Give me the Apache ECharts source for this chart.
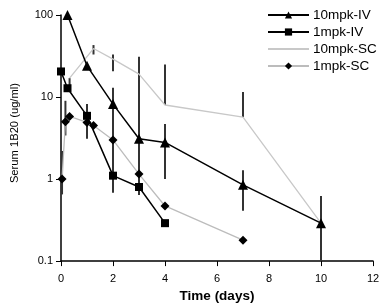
<!DOCTYPE html>
<html>
<head>
<meta charset="utf-8">
<script src="https://cdn.jsdelivr.net/npm/echarts@6/dist/echarts.min.js"></script>
<style>
  html, body { margin: 0; padding: 0; background: #fff; }
  #chart { width: 387px; height: 308px; }
</style>
</head>
<body>
<div id="chart"></div>
<script>
// 各组的时间点 (days) 与血清浓度 (ug/ml)
const days10IV = [0.25, 1, 2, 3, 4, 7, 10];
const conc10IV = [100, 24, 8.2, 3.1, 2.8, 0.85, 0.29];
const days1IV = [0, 0.25, 1, 2, 3, 4];
const conc1IV = [20.5, 12.8, 5.9, 1.1, 0.8, 0.29];
const days10SC = [0.33, 1.25, 2, 3, 4, 7, 10];
const conc10SC = [17, 39, 29, 19, 8.0, 5.7, 0.29];
const days1SC = [0.04, 0.17, 0.33, 1, 1.25, 2, 3, 4, 7];
const conc1SC = [1.0, 5.0, 5.8, 4.9, 4.5, 3.0, 1.15, 0.47, 0.18];

// 误差线: [day, low, high]
const errBars = [
    [0.04, 0.65, 2.2],
    [0.17, 3.4, 9],
    [0.33, 11.5, 17],
    [1, 3.1, 8.2],
    [1.25, 33, 43],
    [2, 20.6, 33],
    [2, 0.68, 13],
    [3, 0.64, 31],
    [4, 8.0, 25],
    [4, 1.0, 4.7],
    [7, 5.7, 11.5],
    [7, 0.41, 1.28],
    [10, 0.1, 0.62]
];

const seriesNames = ["10mpk-IV", "1mpk-IV", "10mpk-SC", "1mpk-SC"];
const xTicks = [0, 2, 4, 6, 8, 10, 12];

const font = "Liberation Sans";
const chart = echarts.init(document.getElementById("chart"));

function pairs(xs, ys) {
    return xs.map((x, i) => [x, ys[i]]);
}

const option = {
    animation: false,
    backgroundColor: "#fff",
    textStyle: { fontFamily: font },
    grid: { left: 61, right: 14, top: 15, bottom: 43 },
    legend: {
        orient: "vertical",
        left: 267,
        top: 8,
        padding: 0,
        itemGap: 3,
        itemWidth: 41,
        itemHeight: 9,
        // 10mpk-SC 没有标记点，图例里只画线
        data: seriesNames.map(n => n === "10mpk-SC" ? { name: n, itemStyle: { opacity: 0 } } : n),
        textStyle: { fontFamily: font, fontSize: 13.5, color: "#000", padding: [0, 0, 0, -1] }
    },
    xAxis: {
        type: "value",
        min: 0,
        max: 12,
        interval: 2,
        name: "Time (days)",
        nameLocation: "middle",
        nameGap: 25,
        nameTextStyle: { fontFamily: font, fontSize: 13.5, fontWeight: "bold", color: "#000" },
        axisLine: { lineStyle: { color: "#000", width: 1.5 } },
        axisTick: { show: true, length: 5, lineStyle: { color: "#000" } },
        axisLabel: {
            fontSize: 11, color: "#000", margin: 12,
            formatter: v => xTicks.includes(v) ? String(v) : ""
        },
        splitLine: { show: false }
    },
    yAxis: {
        type: "log",
        min: 0.1,
        max: 100,
        logBase: 10,
        name: "Serum 1B20 (ug/ml)",
        nameLocation: "middle",
        nameGap: 41,
        nameTextStyle: { fontFamily: font, fontSize: 11.2, color: "#000", padding: [0, 0, 0, 10] },
        axisLine: { show: true, lineStyle: { color: "#000", width: 1.5 } },
        axisTick: { show: true, length: 5, lineStyle: { color: "#000" } },
        axisLabel: { fontSize: 11, color: "#000", margin: 8, formatter: v => String(v) },
        splitLine: { show: false },
        minorTick: { show: false }
    },
    series: [
        {
            type: "custom",
            name: "err",
            z: 1,
            silent: true,
            renderItem: function (params, api) {
                const top = api.coord([api.value(0), api.value(2)]);
                const bot = api.coord([api.value(0), Math.max(api.value(1), 0.1)]);
                return {
                    type: "line",
                    shape: { x1: top[0], y1: top[1], x2: bot[0], y2: bot[1] },
                    style: { stroke: "#333", lineWidth: 2 }
                };
            },
            data: errBars
        },
        {
            name: "10mpk-IV",
            type: "line",
            z: 3,
            data: pairs(days10IV, conc10IV),
            symbol: "triangle",
            symbolSize: 10,
            itemStyle: { color: "#000" },
            lineStyle: { color: "#000", width: 1.5 }
        },
        {
            name: "1mpk-IV",
            type: "line",
            z: 3,
            data: pairs(days1IV, conc1IV),
            symbol: "rect",
            symbolSize: 8,
            itemStyle: { color: "#000" },
            lineStyle: { color: "#000", width: 1.5 }
        },
        {
            name: "10mpk-SC",
            type: "line",
            z: 2,
            data: pairs(days10SC, conc10SC),
            symbol: "none",
            itemStyle: { color: "#c8c8c8" },
            lineStyle: { color: "#c8c8c8", width: 1.3 }
        },
        {
            name: "1mpk-SC",
            type: "line",
            z: 2,
            data: pairs(days1SC, conc1SC),
            symbol: "diamond",
            symbolSize: 9,
            itemStyle: { color: "#000" },
            lineStyle: { color: "#bcbcbc", width: 1.3 }
        }
    ]
};

chart.setOption(option);
</script>
</body>
</html>
